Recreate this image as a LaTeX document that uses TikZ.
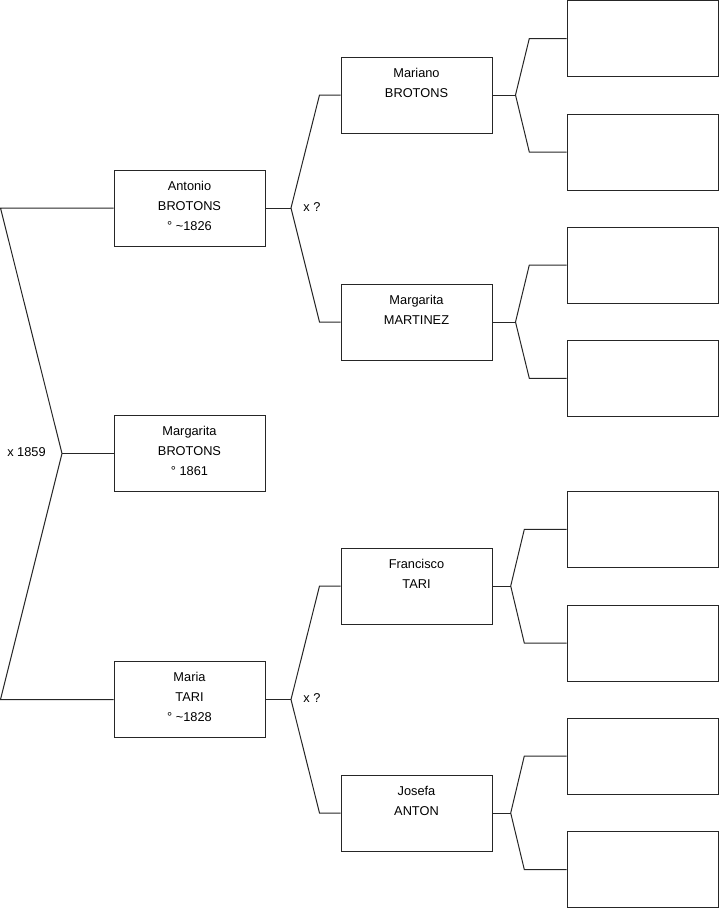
\documentclass[tikz,border=0pt]{standalone}
\usepackage{fontspec}
\setmainfont{Liberation Sans}
\begin{document}
\begin{tikzpicture}[x=1pt,y=-1pt,
  box/.style={draw=black!85,line width=1pt,rectangle,minimum width=151pt,minimum height=76pt,inner sep=0pt,fill=white},
  txt/.style={anchor=north,align=center,inner sep=0pt,font=\fontsize{12.8}{20}\selectfont},
  lbl/.style={inner sep=0pt,font=\fontsize{12.8}{15}\selectfont},
  link/.style={draw=black!85,line width=1pt,line join=miter}]
\useasboundingbox (0,0) rectangle (719,908);

% generation 1
\node[box] (antonio) at (189.5,208) {};
\node[box] (margb) at (189.5,453.5) {};
\node[box] (maria) at (189.5,699.5) {};
% generation 2
\node[box] (mariano) at (416.5,95) {};
\node[box] (margm) at (416.5,322) {};
\node[box] (francisco) at (416.5,586) {};
\node[box] (josefa) at (416.5,813) {};
% generation 3 (empty)
\node[box,minimum width=151.5pt] (e1) at (642.75,38.5) {};
\node[box,minimum width=151.5pt] (e2) at (642.75,152) {};
\node[box,minimum width=151.5pt] (e3) at (642.75,265) {};
\node[box,minimum width=151.5pt] (e4) at (642.75,378.3) {};
\node[box,minimum width=151.5pt] (e5) at (642.75,529.4) {};
\node[box,minimum width=151.5pt] (e6) at (642.75,643) {};
\node[box,minimum width=151.5pt] (e7) at (642.75,756) {};
\node[box,minimum width=151.5pt] (e8) at (642.75,869.5) {};

% texts
\node[txt] (antonio-t) at ([yshift=-11.5]antonio.north) {Antonio\\BROTONS\\° \textasciitilde1826};
\node[txt] (margb-t) at ([yshift=-11.5]margb.north) {Margarita\\BROTONS\\° 1861};
\node[txt] (maria-t) at ([yshift=-11.5]maria.north) {Maria\\TARI\\° \textasciitilde1828};
\node[txt] (mariano-t) at ([yshift=-11.5]mariano.north) {Mariano\\BROTONS};
\node[txt] (margm-t) at ([yshift=-11.5]margm.north) {Margarita\\MARTINEZ};
\node[txt] (francisco-t) at ([yshift=-11.5]francisco.north) {Francisco\\TARI};
\node[txt] (josefa-t) at ([yshift=-11.5]josefa.north) {Josefa\\ANTON};

% marriage labels
\node[lbl] (m1859) at (26.5,452) {x 1859};
\node[lbl] (mq1) at (312,207.5) {x ?};
\node[lbl] (mq2) at (312,698.5) {x ?};

% junction coordinates
\coordinate (t0) at (0.5,208);
\coordinate (b0) at (0.5,699.5);
\coordinate (j0) at (62,453.5);
\coordinate (j1) at (291,208);
\coordinate (j1a) at (319.5,95);
\coordinate (j1b) at (319.5,322);
\coordinate (j2) at (291,699.5);
\coordinate (j2a) at (319.5,586);
\coordinate (j2b) at (319.5,813);
\coordinate (k1) at (515.5,95);
\coordinate (k1a) at (529.3,38.5);
\coordinate (k1b) at (529.3,152);
\coordinate (k2) at (515.5,322);
\coordinate (k2a) at (529.3,265);
\coordinate (k2b) at (529.3,378.3);
\coordinate (k3) at (510.7,586);
\coordinate (k3a) at (524.3,529.4);
\coordinate (k3b) at (524.3,643);
\coordinate (k4) at (510.7,813);
\coordinate (k4a) at (524.3,756);
\coordinate (k4b) at (524.3,869.5);

% connectors
\draw[link] (antonio.west) -- (t0) -- (j0) -- (b0) -- (maria.west);
\draw[link] (j0) -- (margb.west);

\draw[link] (antonio.east) -- (j1);
\draw[link] (mariano.west) -- (j1a) -- (j1) -- (j1b) -- (margm.west);
\draw[link] (maria.east) -- (j2);
\draw[link] (francisco.west) -- (j2a) -- (j2) -- (j2b) -- (josefa.west);

\draw[link] (mariano.east) -- (k1);
\draw[link] (e1.west) -- (k1a) -- (k1) -- (k1b) -- (e2.west);
\draw[link] (margm.east) -- (k2);
\draw[link] (e3.west) -- (k2a) -- (k2) -- (k2b) -- (e4.west);
\draw[link] (francisco.east) -- (k3);
\draw[link] (e5.west) -- (k3a) -- (k3) -- (k3b) -- (e6.west);
\draw[link] (josefa.east) -- (k4);
\draw[link] (e7.west) -- (k4a) -- (k4) -- (k4b) -- (e8.west);
\end{tikzpicture}
\end{document}
